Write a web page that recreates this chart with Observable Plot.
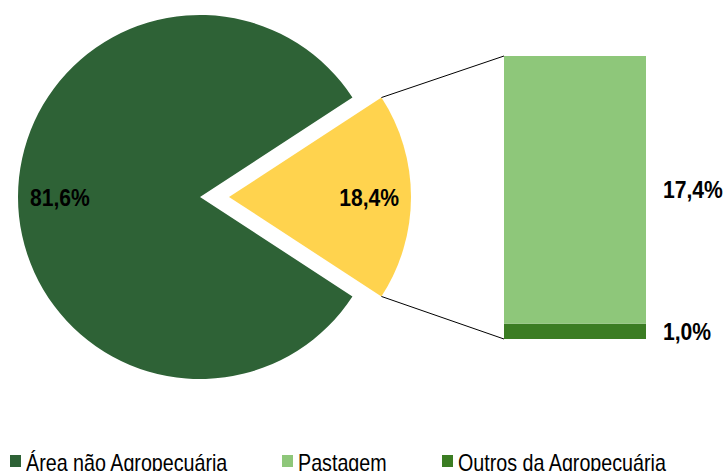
<!DOCTYPE html>
<html><head><meta charset="utf-8">
<script src="https://cdn.jsdelivr.net/npm/d3@7"></script>
<script src="https://cdn.jsdelivr.net/npm/@observablehq/plot@0.6"></script>
<style>
html,body{margin:0;padding:0;background:#fff;width:724px;height:471px;overflow:hidden;font-family:"Liberation Sans",Arial,sans-serif;}
#chart svg{display:block}
#legend{position:relative;height:31px}
.item{position:absolute;top:11px;font-size:24px;line-height:24px;white-space:nowrap;color:#000}
.sw{position:absolute;left:0;top:4px;width:11px;height:12px}
.lt{position:absolute;top:0;display:inline-block;transform:scaleX(0.82);transform-origin:0 50%}
</style></head><body><div id="chart"></div><div id="legend"></div>
<script>
// ---- data ----
const pieCategories = ["Área não Agropecuária", "Agropecuária"];
const pieValues = [81.6, 18.4];
const pieLabels = ["81,6%", "18,4%"];
const barCategories = ["Outros da Agropecuária", "Pastagem"];
const barValues = [1.0, 17.4];
const barLabels = ["1,0%", "17,4%"];
const legendCategories = ["Área não Agropecuária", "Pastagem", "Outros da Agropecuária"];

// ---- style ----
const colorDomain = ["Área não Agropecuária", "Agropecuária", "Pastagem", "Outros da Agropecuária"];
const colorRange = ["#2e6236", "#ffd34e", "#8ec77a", "#3b7d23"];
const FONT = '"Liberation Sans",Arial,sans-serif';
const W = 724, H = 440;
const CX = 200, CY = 197, R = 182, EXPLODE = 29, LABEL_R = 0.77;
const LABEL_SIZE = 24, NARROW = 0.88;

const pieData = pieCategories.map((name, i) => ({name, value: pieValues[i], label: pieLabels[i]}));
const barData = barCategories.map((name, i) => ({name, value: barValues[i], label: barLabels[i], group: "Agropecuária"}));
const barTotal = d3.sum(barValues);
const pieTotal = d3.sum(pieValues);

function label(g, x, y, text, anchor) {
  g.append("text")
    .attr("transform", `translate(${x},${y}) scale(${NARROW},1)`)
    .attr("dy", "0.36em").attr("text-anchor", anchor)
    .attr("font-weight", "bold").attr("font-size", LABEL_SIZE)
    .attr("font-family", FONT).attr("fill", "#000").text(text);
}

function pieMark(index, scales, values, dimensions, context) {
  const g = d3.create("svg:g");
  const exploded = pieCategories[1];
  const startAngle = Math.PI / 2 + Math.PI * pieValues[1] / pieTotal;
  const arcs = d3.pie().sort(null).value(d => d.value).startAngle(startAngle).endAngle(startAngle + 2 * Math.PI)(pieData);
  const arc = d3.arc().innerRadius(0).outerRadius(R);
  for (const a of arcs) {
    const mid = (a.startAngle + a.endAngle) / 2;
    const e = a.data.name === exploded ? EXPLODE : 0;
    const ox = CX + Math.sin(mid) * e, oy = CY - Math.cos(mid) * e;
    g.append("path").attr("transform", `translate(${ox},${oy})`).attr("d", arc(a)).attr("fill", scales.color(a.data.name));
    label(g, ox + Math.sin(mid) * R * LABEL_R, oy - Math.cos(mid) * R * LABEL_R, a.data.label, "middle");
    if (e) {
      const xb = scales.x(barData[0].group);
      const pts = [a.startAngle, a.endAngle].map(t => [ox + Math.sin(t) * R, oy - Math.cos(t) * R]);
      pts.sort((p, q) => p[1] - q[1]);
      const targets = [[xb, scales.y(barTotal)], [xb, scales.y(0)]];
      pts.forEach((p, i) => g.append("line").attr("x1", p[0]).attr("y1", p[1]).attr("x2", targets[i][0]).attr("y2", targets[i][1])
        .attr("stroke", "#000").attr("stroke-width", 1));
    }
  }
  // bar labels, at the middle of each stacked segment
  let acc = 0;
  const xr = scales.x(barData[0].group) + scales.x.bandwidth() + 17;
  for (const d of barData) {
    const m = acc + d.value / 2;
    acc += d.value;
    label(g, xr, scales.y(m), d.label, "start");
  }
  return g.node();
}

const chart = Plot.plot({
  width: W, height: H, margin: 0,
  style: {fontFamily: FONT, background: "#fff"},
  x: {type: "band", domain: ["Agropecuária"], range: [504, 646], padding: 0, axis: null},
  y: {domain: [0, barTotal], range: [339, 56], axis: null},
  color: {domain: colorDomain, range: colorRange},
  marks: [
    Plot.barY(barData, {x: "group", y: "value", fill: "name"}),
    pieMark
  ]
});
document.getElementById("chart").append(chart);

// legend
const legendX = [10, 282, 442];
const legend = document.getElementById("legend");
legendCategories.forEach((name, i) => {
  const item = document.createElement("div");
  item.className = "item";
  item.style.left = legendX[i] + "px";
  const sw = document.createElement("span");
  sw.className = "sw";
  sw.style.background = colorRange[colorDomain.indexOf(name)];
  const t = document.createElement("span");
  t.className = "lt";
  t.style.left = "16px";
  t.textContent = name;
  item.append(sw, t);
  legend.append(item);
});
</script>
</body></html>
